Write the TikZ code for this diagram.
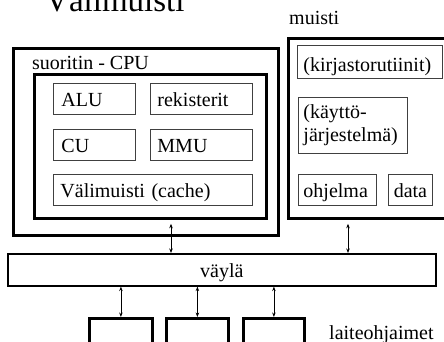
\documentclass[tikz,border=0pt]{standalone}
\usepackage{fontspec}
\setmainfont{Liberation Serif}
\usetikzlibrary{arrows.meta}
\begin{document}
\begin{tikzpicture}[x=1pt,y=-1pt,
  thickbox/.style={draw=black,line width=2.8pt,anchor=north west,inner sep=0pt},
  thinbox/.style={draw=black!75,line width=0.9pt,anchor=north west,inner ysep=0pt,
    font=\fontsize{20}{23}\selectfont,align=left,text height=16pt,text depth=0pt},
  lbl/.style={anchor=base west,inner sep=0pt,font=\fontsize{20}{23}\selectfont},
  arr/.style={line width=0.8pt,{Stealth[length=4.5pt,width=3.5pt]}-{Stealth[length=4.5pt,width=3.5pt]}}]
\useasboundingbox (0,0) rectangle (444,342);

% title
\node[anchor=base west,inner sep=0pt,font=\fontsize{33}{36}\selectfont] (title) at (45,12) {Välimuisti};

% CPU
\node[thickbox,minimum width=265pt,minimum height=187pt] (cpuout) at (12,47) {};
\node[thickbox,minimum width=232pt,minimum height=144pt] (cpuin) at (33,73) {};
\node[lbl] (cpulbl) at (32,70) {suoritin - CPU};
\node[thinbox,inner xsep=8pt,text width=66pt,minimum height=31pt] (alu) at (53,83) {ALU};
\node[thinbox,inner xsep=7pt,text width=88pt,minimum height=31pt] (reg) at (150,83) {rekisterit};
\node[thinbox,inner xsep=8pt,text width=66pt,minimum height=31pt] (cu) at (53,129) {CU};
\node[thinbox,inner xsep=7pt,text width=88pt,minimum height=31pt] (mmu) at (150,129) {MMU};
\node[thinbox,inner xsep=7pt,text width=185pt,minimum height=31pt] (cache) at (53,174) {Välimuisti (cache)};

% memory
\node[thickbox,minimum width=161pt,minimum height=180pt] (mem) at (287,37) {};
\node[lbl] (memlbl) at (289,25) {muisti};
\node[thinbox,inner xsep=6pt,text width=133pt,minimum height=33pt,text height=19pt] (lib) at (297,45.5) {(kirjastorutiinit)};
\node[thinbox,inner xsep=5pt,text width=99pt,minimum height=56pt,text height=,text depth=] (os) at (298,97) {(käyttö-\\järjestelmä)};
\node[thinbox,inner xsep=5pt,text width=68pt,minimum height=31pt] (prog) at (298,174) {ohjelma};
\node[thinbox,inner xsep=5pt,text width=34pt,minimum height=31pt,align=center] (data) at (388,174) {data};

% bus
\node[draw=black,line width=1.6pt,anchor=north west,minimum width=428pt,minimum height=32pt,
  font=\fontsize{20}{23}\selectfont,text height=16pt,text depth=0pt] (bus) at (7,253) {väylä};

% devices
\node[thickbox,minimum width=63pt,minimum height=50pt] (d1) at (88,317) {};
\node[thickbox,minimum width=62pt,minimum height=50pt] (d2) at (165,317) {};
\node[thickbox,minimum width=61pt,minimum height=50pt] (d3) at (242,317) {};
\node[lbl] (devlbl) at (329,339) {laiteohjaimet};

% connectors
\coordinate (cx) at (171,0);
\coordinate (mx) at (348,0);
\draw[arr,shorten <=4pt] (cpuin.south -| cx) -- (bus.north -| cx);
\draw[arr,shorten <=4pt] (mem.south -| mx) -- (bus.north -| mx);
\draw[arr] (bus.south -| d1.north) -- (d1.north);
\draw[arr] (bus.south -| d2.north) -- (d2.north);
\draw[arr] (bus.south -| d3.north) -- (d3.north);
\end{tikzpicture}
\end{document}
